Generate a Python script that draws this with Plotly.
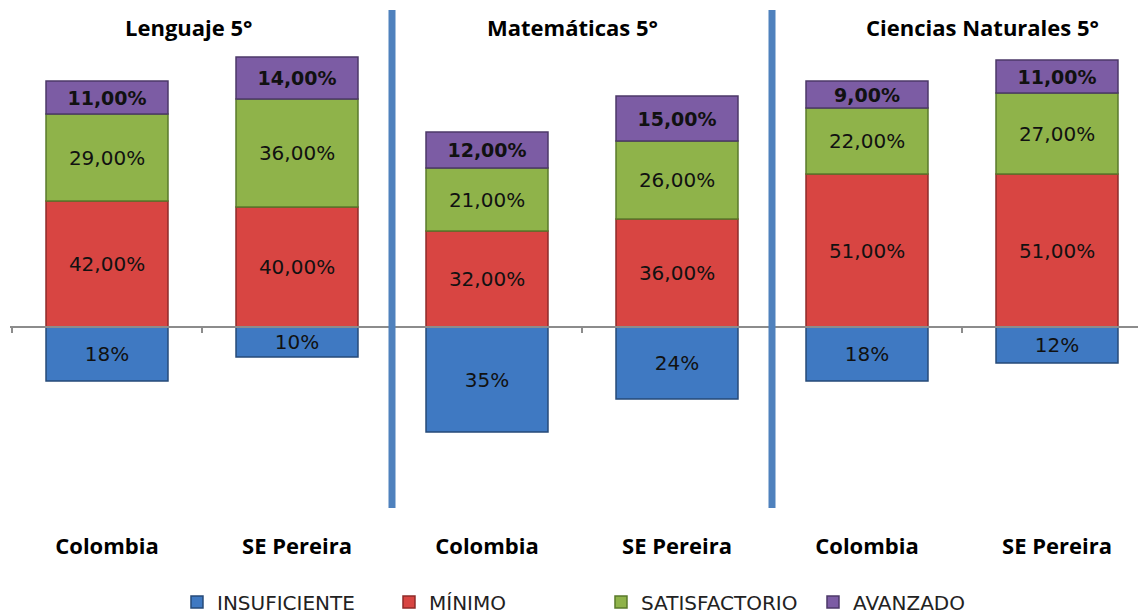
import plotly.graph_objects as go

# ---- data ----
categories = ["Colombia", "SE Pereira", "Colombia", "SE Pereira", "Colombia", "SE Pereira"]
subjects = ["Lenguaje 5°", "Matemáticas 5°", "Ciencias Naturales 5°"]
insuficiente = [18, 10, 35, 24, 18, 12]
minimo = [42, 40, 32, 36, 51, 51]
satisfactorio = [29, 36, 21, 26, 22, 27]
avanzado = [11, 14, 12, 15, 9, 11]

xpos = list(range(len(categories)))
bar_w = 0.642

fig = go.Figure()

common = dict(width=bar_w, textposition="inside", insidetextanchor="middle",
              textangle=0, constraintext="none")

fig.add_trace(go.Bar(
    name="INSUFICIENTE", x=xpos, y=[-v for v in insuficiente],
    text=[f"{v}%" for v in insuficiente], texttemplate="%{text}",
    marker=dict(color="#3f79c2", line=dict(color="#264a78", width=1.5)),
    textfont=dict(family="DejaVu Sans", size=20, color="#111"), **common,
))
fig.add_trace(go.Bar(
    name="MÍNIMO", x=xpos, y=minimo, texttemplate="%{y:.2f}%",
    marker=dict(color="#d84542", line=dict(color="#8e2b29", width=1.5)),
    textfont=dict(family="DejaVu Sans", size=20, color="#111"), **common,
))
fig.add_trace(go.Bar(
    name="SATISFACTORIO", x=xpos, y=satisfactorio, texttemplate="%{y:.2f}%",
    marker=dict(color="#8fb34a", line=dict(color="#5a7a2b", width=1.5)),
    textfont=dict(family="DejaVu Sans", size=20, color="#111"), **common,
))
fig.add_trace(go.Bar(
    name="AVANZADO", x=xpos, y=avanzado, texttemplate="%{y:.2f}%",
    marker=dict(color="#7c5ca4", line=dict(color="#4c3868", width=1.5)),
    textfont=dict(family="DejaVu Sans", size=19, color="#111", weight="bold"), **common,
))

xr = [-0.5105, 5.4684]

# the page body has an 8px margin, so the figure is drawn at (8, 8)
fig.update_layout(
    width=1138, height=607,
    margin=dict(l=2, r=0, t=2, b=105, autoexpand=False),
    paper_bgcolor="white", plot_bgcolor="white",
    barmode="relative",
    separators=",.",
    xaxis=dict(
        range=xr, tickmode="array", tickvals=xpos, ticktext=categories,
        tickfont=dict(family="Open Sans", size=22, color="black", weight="bold"),
        ticks="outside", ticklen=17, tickcolor="rgba(0,0,0,0)",
        showgrid=False, zeroline=False, showline=False, automargin=False,
    ),
    xaxis2=dict(
        range=xr, overlaying="x", anchor="free", position=(500 - 317) / 500,
        showline=True, linecolor="#8c8c8c", linewidth=2,
        ticks="outside", tickmode="array",
        tickvals=[i - 0.5 for i in range(len(categories) + 1)],
        ticklen=5, tickwidth=2, tickcolor="#8c8c8c",
        showticklabels=False, showgrid=False, zeroline=False, automargin=False,
    ),
    yaxis=dict(range=[-61, 105.667], showticklabels=False, showgrid=False,
               zeroline=False, showline=False, ticks="", automargin=False),
    legend=dict(
        orientation="h", x=0.147, xanchor="left", y=-0.184, yanchor="middle",
        font=dict(family="DejaVu Sans", size=20, color="#222"),
        traceorder="normal", itemwidth=30, entrywidth=167, entrywidthmode="pixels",
    ),
    showlegend=True,
)

# invisible trace so xaxis2 renders
fig.add_trace(go.Scatter(x=[0], y=[0], xaxis="x2", yaxis="y", mode="markers",
                         marker=dict(opacity=0), showlegend=False, hoverinfo="skip"))

# separators between subjects
for xs in [1.5, 3.5]:
    fig.add_shape(type="line", xref="x", yref="paper", x0=xs, x1=xs, y0=0.004, y1=1.0,
                  line=dict(color="#4f81bd", width=7))

# subject titles
title_x = [0.434, 2.45, 4.61]
for s, tx in zip(subjects, title_x):
    fig.add_annotation(text=s, xref="x", yref="paper", x=tx, y=(500 - 17) / 500,
                       showarrow=False, xanchor="center", yanchor="middle",
                       font=dict(family="Open Sans", size=22, color="black", weight="bold"))

fig.write_html("out.html")
